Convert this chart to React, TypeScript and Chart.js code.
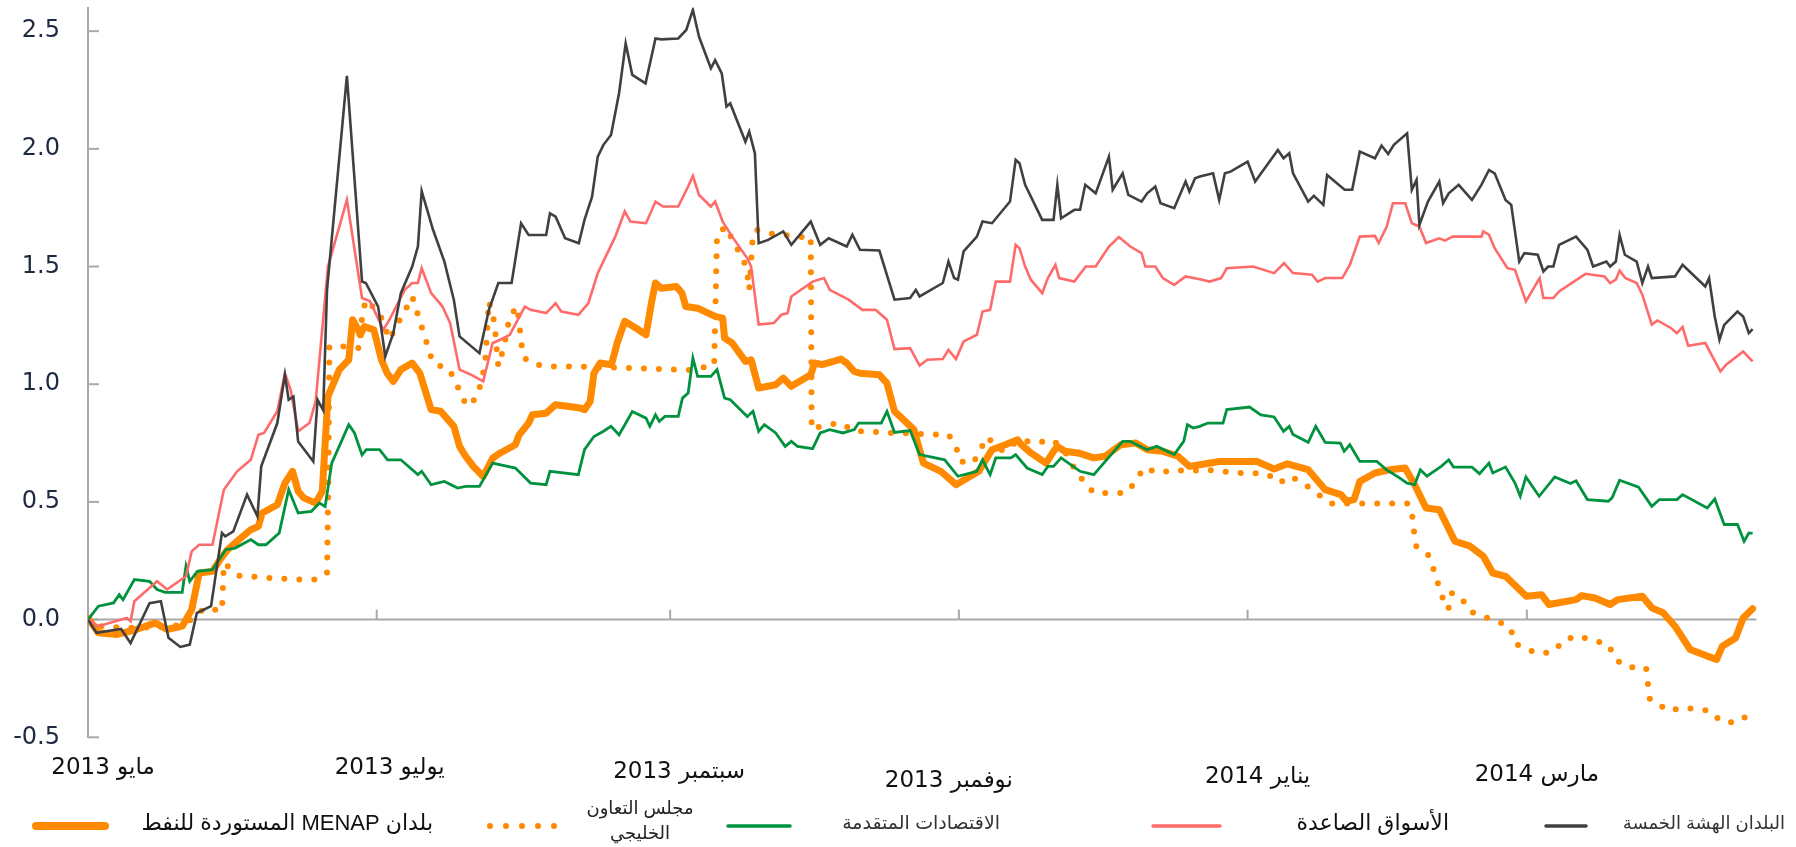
import React, { useEffect, useRef } from "react";
import { Chart, registerables } from "chart.js";

Chart.register(...registerables);

// Days since 1 May 2013 (x) and index values (y)
const monthTickDays = [0, 61, 123, 184, 245, 304];
const monthTickLabels = ["مايو 2013", "يوليو 2013", "سبتمبر 2013", "نوفمبر 2013", "يناير 2014", "مارس 2014"];
const yTickValues = [-0.5, 0, 0.5, 1, 1.5, 2, 2.5];

const seriesLabels = [
  "البلدان الهشة الخمسة",
  "الأسواق الصاعدة",
  "الاقتصادات المتقدمة",
  "بلدان MENAP المستوردة للنفط",
  "مجلس التعاون\nالخليجي",
];

const fragileFive: [number, number][] = [[0,0],[1.8,-0.056],[7,-0.04],[9,-0.1],[13,0.07],[15.4,0.078],[17,-0.077],[19.5,-0.116],[21.5,-0.106],[23,0.028],[26,0.057],[28.3,0.368],[29,0.354],[30.7,0.375],[33.6,0.531],[35.8,0.439],[36.6,0.651],[40,0.835],[41.6,1.04],[42.4,0.934],[43.4,0.948],[44.4,0.757],[47.6,0.672],[48.5,0.934],[49.7,0.89],[50.5,1.4],[54.7,2.31],[57.9,1.436],[58.7,1.43],[61.3,1.33],[62.8,1.118],[64.5,1.217],[66.1,1.387],[68.5,1.5],[69.7,1.585],[70.5,1.82],[72.9,1.656],[75.3,1.521],[77.3,1.358],[78.5,1.203],[82.7,1.132],[84.7,1.316],[86.7,1.43],[89.5,1.43],[91.5,1.684],[93.1,1.634],[96.8,1.634],[97.6,1.726],[98.8,1.712],[100.8,1.62],[103.7,1.599],[104.9,1.698],[106.5,1.797],[107.7,1.967],[108.9,2.017],[110.5,2.059],[112.2,2.236],[113.6,2.448],[115,2.314],[117.8,2.278],[119.9,2.469],[121.1,2.465],[124.7,2.469],[126.4,2.505],[127.8,2.59],[129.1,2.476],[131.6,2.342],[132.5,2.377],[133.9,2.32],[134.9,2.18],[135.7,2.193],[138.9,2.03],[139.7,2.073],[140.9,1.981],[141.7,1.599],[143.7,1.613],[146.9,1.649],[148.6,1.592],[152.7,1.691],[154.7,1.592],[156.5,1.62],[160.3,1.585],[161.5,1.635],[163.1,1.571],[167.2,1.568],[170.4,1.359],[173.7,1.366],[174.9,1.401],[175.7,1.373],[180.6,1.43],[181.8,1.521],[183,1.451],[183.8,1.444],[185,1.564],[187.8,1.627],[189,1.691],[191,1.684],[194.8,1.776],[196,1.953],[196.8,1.939],[198,1.847],[201.6,1.698],[204,1.698],[204.8,1.847],[205.6,1.705],[208.4,1.741],[209.6,1.741],[210.7,1.847],[212.9,1.811],[215.7,1.967],[216.5,1.826],[218.6,1.896],[219.8,1.804],[222.6,1.776],[223.8,1.811],[225.5,1.84],[226.6,1.769],[229.5,1.748],[231.9,1.861],[232.7,1.819],[233.9,1.875],[234.9,1.882],[237.7,1.896],[239,1.783],[240.2,1.896],[241.4,1.903],[245,1.946],[246.6,1.861],[251.4,1.995],[252.6,1.96],[253.8,1.981],[254.6,1.896],[257.8,1.776],[259,1.8],[261,1.762],[261.8,1.889],[265.5,1.826],[267.1,1.826],[268.7,1.988],[271.9,1.96],[273.3,2.014],[274.7,1.978],[275.9,2.017],[278.7,2.066],[279.7,1.826],[280.7,1.868],[281.3,1.677],[283.1,1.776],[285.5,1.861],[286.3,1.769],[287.5,1.811],[289.6,1.847],[292.4,1.783],[294.4,1.847],[296,1.91],[297.2,1.896],[299.5,1.783],[300.7,1.762],[302.4,1.521],[303.5,1.557],[306.3,1.55],[307.5,1.479],[308.5,1.5],[309.6,1.5],[310.8,1.592],[314.4,1.627],[316.8,1.571],[318,1.5],[320.8,1.521],[321.6,1.5],[322.8,1.521],[323.6,1.634],[324.7,1.55],[327.2,1.521],[328.4,1.43],[329.6,1.5],[330.4,1.451],[335.3,1.458],[336.9,1.507],[341.7,1.415],[342.5,1.451],[343.7,1.288],[344.7,1.189],[345.7,1.252],[348.5,1.309],[349.7,1.288],[350.9,1.217],[351.7,1.234]];

const emergingMarkets: [number, number][] = [[0,0],[2.2,-0.028],[8.2,0.007],[9,-0.007],[9.8,0.078],[14.6,0.163],[16.7,0.128],[20.7,0.184],[21.9,0.29],[23.5,0.318],[26.3,0.318],[28.7,0.552],[31.5,0.63],[34.4,0.679],[36,0.785],[37.2,0.793],[40,0.885],[41.6,1.047],[42.8,0.977],[44.4,0.8],[46.8,0.835],[48.1,0.927],[50.7,1.5],[54.7,1.783],[57.9,1.366],[59.6,1.352],[62.4,1.231],[63.7,1.274],[66.9,1.401],[68.5,1.43],[69.7,1.43],[70.5,1.493],[72.5,1.387],[74.9,1.33],[76.5,1.26],[78.5,1.062],[81,1.04],[83.5,1.012],[85.5,1.175],[87.1,1.189],[89.1,1.21],[92.3,1.33],[93.5,1.316],[96.8,1.302],[98.8,1.344],[100,1.309],[103.6,1.295],[105.7,1.344],[107.7,1.472],[111.4,1.627],[113.4,1.734],[114.6,1.691],[117.9,1.684],[119.9,1.776],[121.5,1.755],[124.7,1.755],[126.8,1.84],[127.8,1.885],[129.1,1.804],[131.6,1.755],[132.5,1.776],[134.1,1.691],[136.1,1.627],[139.3,1.535],[140.1,1.5],[141.7,1.253],[144.9,1.26],[146.5,1.295],[147.8,1.302],[148.6,1.373],[153.1,1.436],[155.5,1.451],[156.7,1.401],[160.7,1.359],[163.6,1.316],[166.4,1.316],[168.8,1.274],[170.4,1.149],[173.7,1.153],[175.7,1.079],[177.3,1.104],[180.6,1.107],[181.8,1.146],[183.4,1.107],[185,1.182],[187.8,1.21],[189,1.309],[190.6,1.316],[191.8,1.436],[194.8,1.436],[196,1.592],[196.8,1.578],[198,1.5],[199.2,1.444],[201.6,1.387],[202.8,1.451],[204.4,1.507],[205.2,1.451],[208.4,1.436],[210.8,1.5],[212.9,1.5],[215.7,1.585],[217.8,1.625],[220.2,1.585],[222.6,1.557],[223.4,1.5],[225.5,1.5],[227.1,1.451],[229.5,1.422],[231.9,1.458],[234.9,1.446],[237,1.436],[239.4,1.451],[240.6,1.493],[246.2,1.5],[250.6,1.472],[252.7,1.514],[254.6,1.472],[258.6,1.465],[259.8,1.436],[261.4,1.451],[265,1.451],[266.6,1.507],[268.7,1.627],[271.9,1.63],[272.7,1.6],[274.4,1.67],[275.7,1.769],[278.3,1.769],[279.7,1.684],[281.3,1.67],[282.7,1.6],[285.5,1.62],[286.7,1.61],[288.3,1.627],[294.4,1.627],[294.8,1.649],[296,1.635],[297.2,1.578],[299.9,1.493],[301.5,1.486],[303.8,1.352],[306.7,1.451],[307.5,1.366],[309.6,1.366],[310.8,1.394],[316.4,1.469],[320.4,1.458],[321.6,1.43],[322.8,1.444],[323.6,1.483],[324.8,1.451],[327.2,1.43],[328.4,1.38],[330.4,1.253],[331.6,1.271],[334.5,1.238],[335.7,1.217],[336.9,1.243],[338.1,1.163],[341.7,1.175],[344.9,1.054],[346.1,1.083],[349.7,1.139],[351.7,1.097]];

const advancedEconomies: [number, number][] = [[0,0],[2.2,0.057],[5.4,0.071],[6.6,0.106],[7.4,0.085],[9.8,0.17],[13,0.163],[14.6,0.128],[16.3,0.116],[19.9,0.116],[20.7,0.227],[21.5,0.163],[23.1,0.205],[26.3,0.212],[29.1,0.297],[31.1,0.304],[34.4,0.34],[36,0.318],[37.6,0.318],[40.4,0.368],[42.4,0.552],[44.4,0.453],[47.2,0.46],[48.9,0.495],[50.1,0.481],[51.5,0.665],[55.1,0.828],[56.3,0.793],[57.9,0.7],[58.8,0.722],[61.6,0.722],[63.3,0.679],[66.1,0.679],[69.7,0.616],[70.5,0.63],[72.5,0.573],[75.3,0.587],[78.1,0.559],[79.8,0.566],[82.7,0.566],[85.5,0.665],[90.3,0.644],[93.5,0.58],[96.8,0.573],[97.6,0.63],[103.6,0.616],[104.9,0.722],[106.9,0.778],[108.9,0.8],[110.5,0.821],[112.2,0.785],[115,0.884],[117.9,0.856],[118.7,0.821],[119.9,0.87],[120.7,0.842],[121.9,0.863],[124.7,0.863],[125.6,0.941],[126.8,0.962],[127.8,1.111],[128.8,1.033],[131.6,1.033],[132.9,1.062],[134.5,0.941],[135.7,0.934],[139.3,0.863],[140.5,0.885],[141.7,0.8],[142.9,0.828],[145.3,0.793],[147.3,0.736],[148.6,0.757],[149.9,0.736],[153.1,0.726],[154.7,0.793],[156.7,0.807],[159.5,0.793],[161.9,0.807],[162.8,0.835],[167.6,0.835],[168.8,0.885],[170.4,0.795],[173.7,0.803],[175.7,0.701],[181,0.679],[183.8,0.609],[187.8,0.63],[189,0.679],[190.6,0.616],[191.8,0.687],[195,0.687],[196,0.701],[198.4,0.644],[201.6,0.616],[202.8,0.651],[204,0.651],[205.6,0.687],[209.6,0.63],[212.5,0.616],[218.6,0.757],[220.2,0.757],[223.8,0.722],[225.8,0.736],[229.5,0.701],[231.5,0.757],[232.3,0.828],[233.5,0.814],[234.9,0.821],[236.6,0.835],[239.8,0.835],[240.6,0.892],[245.4,0.903],[247.8,0.87],[250.6,0.861],[252.6,0.8],[253.8,0.821],[254.6,0.786],[257.8,0.753],[259.4,0.821],[261.4,0.753],[264.6,0.75],[265.4,0.715],[266.6,0.743],[268.7,0.672],[272.3,0.672],[274.3,0.637],[277.1,0.602],[278.7,0.58],[280.3,0.573],[281.5,0.637],[282.9,0.609],[285.9,0.651],[287.5,0.679],[288.5,0.648],[292.4,0.648],[294,0.62],[296,0.665],[296.8,0.623],[299.5,0.648],[301.5,0.58],[302.6,0.524],[303.8,0.606],[306.6,0.524],[309.9,0.606],[313.2,0.578],[314.4,0.59],[316.8,0.51],[321.2,0.503],[322,0.517],[323.6,0.592],[327.6,0.563],[330.4,0.481],[332,0.51],[335.7,0.51],[336.9,0.531],[342.1,0.474],[343.7,0.512],[345.7,0.404],[348.5,0.404],[349.9,0.333],[350.9,0.368],[351.7,0.366]];

const menapOilImporters: [number, number][] = [[0,0.007],[2.2,-0.056],[6.2,-0.063],[10.2,-0.042],[14.2,-0.014],[16.7,-0.042],[19.9,-0.028],[21.9,0.042],[23.5,0.198],[26.3,0.205],[27.9,0.255],[29.5,0.297],[31.9,0.34],[34.4,0.382],[36,0.396],[36.8,0.453],[40,0.488],[41.6,0.58],[43.2,0.63],[44.4,0.545],[45.6,0.517],[48.1,0.495],[49.5,0.545],[50.7,0.948],[53.1,1.062],[55.1,1.104],[55.9,1.274],[57.1,1.231],[57.5,1.21],[58.4,1.245],[60.4,1.231],[62,1.104],[63.2,1.047],[64.5,1.012],[66.1,1.062],[68.5,1.09],[70.1,1.047],[72.5,0.892],[74.5,0.885],[77.3,0.821],[78.5,0.736],[79.8,0.693],[81.4,0.651],[83.5,0.608],[85.5,0.686],[87.1,0.708],[90.3,0.743],[91.1,0.785],[93.1,0.835],[93.9,0.87],[96.8,0.877],[98.8,0.913],[104,0.899],[104.9,0.892],[106.1,0.927],[106.9,1.047],[108.2,1.09],[110.6,1.083],[111.8,1.175],[113.4,1.267],[115.8,1.238],[117.9,1.21],[119.1,1.352],[119.9,1.43],[121.1,1.408],[124.3,1.415],[125.5,1.387],[126.3,1.33],[128.8,1.323],[132.5,1.288],[134.1,1.281],[134.5,1.196],[136.1,1.175],[138.9,1.097],[140.1,1.104],[141.7,0.984],[145.3,0.998],[146.9,1.026],[148.6,0.991],[152.7,1.04],[153.5,1.09],[155.1,1.083],[159.1,1.107],[160.3,1.09],[161.9,1.054],[163.1,1.047],[167.2,1.04],[168.8,1.005],[170.4,0.885],[174.5,0.807],[176.5,0.665],[180.2,0.63],[183.4,0.573],[188.2,0.63],[191,0.722],[193.8,0.743],[196.4,0.764],[197.2,0.743],[199.2,0.708],[202.4,0.665],[204,0.715],[204.8,0.736],[206.4,0.715],[209.2,0.708],[212.5,0.687],[214.9,0.694],[218.2,0.743],[221.4,0.75],[223.8,0.722],[227.1,0.715],[230.3,0.694],[232.7,0.651],[234.9,0.658],[239,0.672],[243,0.672],[247,0.672],[250.6,0.64],[253.4,0.662],[257.8,0.637],[261.4,0.552],[264.7,0.531],[265.9,0.503],[267.5,0.51],[268.7,0.587],[271.9,0.623],[275.1,0.637],[278.3,0.644],[280.3,0.573],[282.7,0.474],[285.5,0.467],[288.8,0.333],[292,0.312],[294.8,0.269],[296.8,0.198],[299.5,0.184],[303.9,0.099],[307.1,0.106],[308.7,0.064],[314.4,0.085],[315.6,0.102],[318.4,0.092],[321.6,0.064],[323.2,0.085],[328.4,0.099],[330.4,0.05],[332.8,0.029],[335.3,-0.028],[338.5,-0.127],[342.1,-0.155],[344.1,-0.169],[345.3,-0.113],[348.1,-0.078],[349.7,0.007],[351.7,0.046]];

const gccCountries: [number, number][] = [[0,0],[3,-0.03],[10,-0.035],[18,-0.03],[22,0],[24.7,0.05],[28.3,0.036],[28.7,0.24],[31.9,0.187],[38.4,0.177],[45.2,0.17],[48.5,0.17],[50.5,0.2],[50.8,0.608],[51,1.16],[54.3,1.16],[57.5,1.153],[57.9,1.288],[58.7,1.359],[61.6,1.302],[63.7,1.189],[65.3,1.253],[66.9,1.309],[68.5,1.373],[69.3,1.323],[70.1,1.267],[71.3,1.196],[72.1,1.132],[73.3,1.083],[76.1,1.069],[77.7,1.012],[78.9,0.948],[80.2,0.906],[82.3,0.948],[83.9,1.083],[84.7,1.352],[85.9,1.26],[86.3,1.16],[86.7,1.076],[87.9,1.16],[89.1,1.288],[90.7,1.33],[91.5,1.189],[91.9,1.118],[93.5,1.09],[96.8,1.075],[103.6,1.075],[112,1.07],[120,1.065],[127,1.06],[132.3,1.08],[132.9,1.64],[134.9,1.67],[136.1,1.613],[137.3,1.571],[138.5,1.528],[139.3,1.472],[139.7,1.401],[140.5,1.642],[141.3,1.656],[144,1.64],[147,1.635],[150,1.625],[152.7,1.628],[152.9,0.807],[153.5,0.814],[156.3,0.828],[159.1,0.835],[161.9,0.8],[165.2,0.8],[168.4,0.793],[172,0.793],[175,0.79],[178.5,0.786],[181.8,0.786],[183.4,0.736],[184.2,0.672],[187,0.665],[188.6,0.722],[189.8,0.776],[193.4,0.715],[196.8,0.764],[200.4,0.75],[203.6,0.764],[206,0.729],[208.9,0.623],[212.5,0.538],[215.7,0.538],[219.3,0.538],[221.4,0.587],[223,0.644],[226.3,0.623],[229.5,0.637],[232.7,0.63],[235.8,0.637],[239.4,0.63],[242.6,0.623],[246.2,0.623],[249.4,0.616],[251.8,0.58],[253.8,0.609],[256.2,0.587],[262.6,0.493],[265.4,0.493],[269,0.493],[272.2,0.493],[275.4,0.493],[279,0.493],[279.8,0.439],[280.2,0.368],[280.6,0.312],[283,0.283],[284.2,0.219],[285.2,0.156],[285.9,0.106],[287.4,0.043],[288.2,0.113],[290.2,0.092],[291.9,0.036],[295,0.012],[298.3,-0.011],[300.6,-0.039],[301.4,-0.099],[303.8,-0.127],[307.1,-0.144],[309.9,-0.134],[311.5,-0.092],[314.4,-0.068],[317.6,-0.085],[321.2,-0.106],[322.8,-0.169],[324.8,-0.2],[328,-0.205],[329.2,-0.205],[329.6,-0.276],[330,-0.339],[331.2,-0.353],[334.1,-0.389],[336.5,-0.375],[339.7,-0.379],[342.9,-0.389],[344.9,-0.431],[348.1,-0.438],[350.5,-0.41],[351.7,-0.4]];

const AXIS_COLOR = "#a9a9a9";
const ARABIC_FONT = '"DejaVu Sans", sans-serif';
const LEGEND_FONT = '"Liberation Sans", "DejaVu Sans", sans-serif';

export default function App() {
  const ref = useRef<HTMLCanvasElement>(null);

  useEffect(() => {
    const canvas = ref.current;
    if (!canvas) return;
    const toPoints = (s: [number, number][]) => s.map(([x, y]) => ({ x, y }));

    const datasets: any[] = [
      { label: seriesLabels[0], data: toPoints(fragileFive), borderColor: "#404040", borderWidth: 2.6 },
      { label: seriesLabels[1], data: toPoints(emergingMarkets), borderColor: "#ff6b6b", borderWidth: 2.6 },
      { label: seriesLabels[2], data: toPoints(advancedEconomies), borderColor: "#00923f", borderWidth: 2.8 },
      { label: seriesLabels[3], data: toPoints(menapOilImporters), borderColor: "#ff8a00", borderWidth: 7, borderJoinStyle: "round", borderCapStyle: "round" },
      { label: seriesLabels[4], data: toPoints(gccCountries), borderColor: "#ff8a00", borderWidth: 6, borderDash: [0, 15], borderCapStyle: "round" },
    ].map((d) => ({ ...d, pointRadius: 0, fill: false, tension: 0, backgroundColor: d.borderColor }));

    // layout of the legend row and of the month labels (pixel placement only)
    const legendLayout = [
      { ds: 3, x1: 36, x2: 105, width: 8, textX: 433, align: "right", size: 22, color: "#111" },
      { ds: 4, x1: 490, x2: 555, width: 6, textX: 640, align: "center", size: 18, color: "#222" },
      { ds: 2, x1: 728, x2: 790, width: 3.5, textX: 1000, align: "right", size: 19, color: "#333" },
      { ds: 1, x1: 1153, x2: 1220, width: 3.5, textX: 1449, align: "right", size: 22, color: "#111" },
      { ds: 0, x1: 1546, x2: 1586, width: 3.5, textX: 1785, align: "right", size: 18, color: "#333" },
    ];
    const monthLabelNudge = [
      [15, 768], [13, 768], [9, 772], [-10, 781], [10, 777], [10, 775],
    ];

    const decor = {
      id: "decor",
      beforeDatasetsDraw(chart: any) {
        const { ctx, chartArea: a, scales } = chart;
        const xs = scales.x, ys = scales.y;
        const y0 = ys.getPixelForValue(0);
        ctx.save();
        ctx.strokeStyle = AXIS_COLOR;
        ctx.lineWidth = 2;
        ctx.beginPath();
        ctx.moveTo(a.left, y0);
        ctx.lineTo(a.right, y0);
        ctx.stroke();
        yTickValues.forEach((v) => {
          const py = ys.getPixelForValue(v);
          ctx.beginPath();
          ctx.moveTo(a.left, py);
          ctx.lineTo(a.left + 11, py);
          ctx.stroke();
        });
        monthTickDays.forEach((d) => {
          if (d === 0) return;
          const px = xs.getPixelForValue(d);
          ctx.beginPath();
          ctx.moveTo(px, y0);
          ctx.lineTo(px, y0 - 10);
          ctx.stroke();
        });
        ctx.restore();
      },
      afterDraw(chart: any) {
        const { ctx, scales } = chart;
        const xs = scales.x;
        ctx.save();
        // month labels
        ctx.direction = "rtl";
        ctx.fillStyle = "#111";
        ctx.textBaseline = "middle";
        ctx.textAlign = "center";
        ctx.font = `23px ${ARABIC_FONT}`;
        monthTickDays.forEach((d, i) => {
          const [dx, py] = monthLabelNudge[i];
          ctx.fillText(monthTickLabels[i], xs.getPixelForValue(d) + dx, py);
        });
        // legend
        const ly = 826;
        legendLayout.forEach((it) => {
          const ds = chart.data.datasets[it.ds];
          ctx.save();
          ctx.strokeStyle = ds.borderColor;
          ctx.lineWidth = it.width;
          ctx.lineCap = "round";
          ctx.setLineDash(ds.borderDash ? [0, 16] : []);
          ctx.beginPath();
          ctx.moveTo(it.x1, ly);
          ctx.lineTo(it.x2, ly);
          ctx.stroke();
          ctx.restore();
          ctx.fillStyle = it.color;
          ctx.font = `${it.size}px ${LEGEND_FONT}`;
          ctx.textAlign = it.align as CanvasTextAlign;
          ctx.direction = "rtl";
          const lines = String(ds.label).split("\n");
          const lh = it.size + 7;
          const startY = ly - 4 - ((lines.length - 1) * lh) / 2;
          lines.forEach((t, k) => ctx.fillText(t, it.textX, lines.length > 1 ? startY + k * lh : ly - 2));
        });
        ctx.restore();
      },
    };

    const chart = new Chart(canvas, {
      type: "line",
      data: { datasets },
      options: {
        responsive: false,
        animation: false,
        events: [],
        layout: { padding: { top: 7.6, right: 39.6, left: 0, bottom: 0 } },
        plugins: { legend: { display: false }, tooltip: { enabled: false } },
        scales: {
          x: {
            type: "linear",
            min: 0,
            max: 352.5,
            ticks: { display: false },
            grid: { display: false },
            border: { display: false },
            afterFit: (s: any) => {
              s.height = 109.7;
              s.paddingLeft = 0;
              s.paddingRight = 0;
            },
          },
          y: {
            type: "linear",
            min: -0.5,
            max: 2.6,
            afterBuildTicks: (s: any) => {
              s.ticks = yTickValues.map((v) => ({ value: v }));
            },
            ticks: {
              padding: 28,
              color: "#1f2a40",
              font: { family: "DejaVu Sans", size: 24 },
              callback: (v: any) => Number(v).toFixed(1),
            },
            grid: { drawOnChartArea: false, drawTicks: false },
            border: { display: true, color: AXIS_COLOR, width: 2 },
            afterFit: (s: any) => {
              s.width = 88;
              s.paddingTop = 0;
              s.paddingBottom = 0;
            },
          },
        },
      } as any,
      plugins: [decor as any],
    });
    return () => chart.destroy();
  }, []);

  return (
    <div style={{ position: "absolute", left: 0, top: 0, width: 1796, height: 847, background: "#fff" }}>
      <canvas ref={ref} width={1796} height={847} style={{ display: "block" }} />
    </div>
  );
}
